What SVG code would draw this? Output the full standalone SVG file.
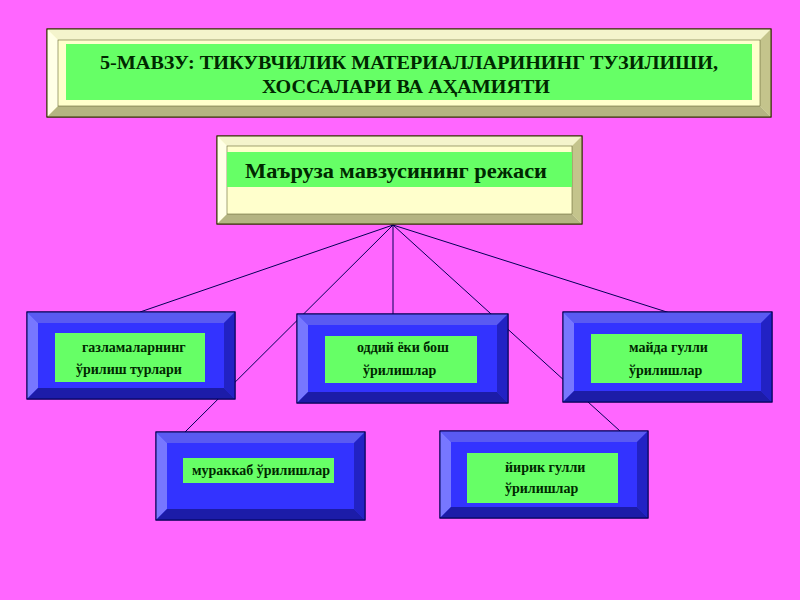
<svg xmlns="http://www.w3.org/2000/svg" width="800" height="600" viewBox="0 0 800 600">
<style>
.bg{fill:#FF66FF}
.cf{fill:#FFFFCC;stroke:#333300;stroke-width:1}
.ct{fill:#F4F4CC}
.cl{fill:#FFFFE6}
.cr{fill:#C4C48C}
.cb{fill:#B4B482}
.bf{fill:#3333FF;stroke:#000055;stroke-width:1}
.bt{fill:#5A5AF2}
.bl{fill:#7777FF}
.br{fill:#2222C4}
.bb{fill:#1C1CA8}
.edge{fill:none;stroke:#000055;stroke-width:1}
.g{fill:#66FF66}
.t{font-family:"Liberation Serif","Times New Roman",serif;font-weight:bold;fill:#002800}
.s{font-size:14px}
</style>
<rect class="bg" x="0" y="0" width="800" height="600"/>
<g id="connectors">
<line class="edge" x1="393" y1="225" x2="140" y2="312"/>
<line class="edge" x1="393" y1="225" x2="185" y2="432"/>
<line class="edge" x1="393" y1="225" x2="393" y2="315"/>
<line class="edge" x1="393" y1="225" x2="620" y2="431"/>
<line class="edge" x1="393" y1="225" x2="670" y2="313"/>
</g>
<g id="title">
<rect class="cf" x="47" y="29" width="724" height="88"/>
<polygon class="ct" points="47,29 771,29 760,40 58,40"/>
<polygon class="cl" points="47,29 58,40 58,106 47,117"/>
<polygon class="cr" points="771,29 771,117 760,106 760,40"/>
<polygon class="cb" points="47,117 58,106 760,106 771,117"/>
<rect x="47" y="29" width="724" height="88" fill="none" stroke="#333300"/>
<rect x="58" y="40" width="702" height="66" fill="none" stroke="#666633" stroke-width="0.6"/>
<rect class="g" x="66" y="44" width="686" height="56"/>
<text class="t" x="100" y="69" font-size="19" textLength="618" lengthAdjust="spacingAndGlyphs">5-МАВЗУ: ТИКУВЧИЛИК МАТЕРИАЛЛАРИНИНГ ТУЗИЛИШИ,</text>
<text class="t" x="262" y="93" font-size="19" textLength="288" lengthAdjust="spacingAndGlyphs">ХОССАЛАРИ ВА АҲАМИЯТИ</text>
</g>
<g id="plan">
<rect class="cf" x="217" y="136" width="365" height="88"/>
<polygon class="ct" points="217,136 582,136 572,146 227,146"/>
<polygon class="cl" points="217,136 227,146 227,214 217,224"/>
<polygon class="cr" points="582,136 582,224 572,214 572,146"/>
<polygon class="cb" points="217,224 227,214 572,214 582,224"/>
<rect x="217" y="136" width="365" height="88" fill="none" stroke="#333300"/>
<rect x="227" y="146" width="345" height="68" fill="none" stroke="#666633" stroke-width="0.6"/>
<rect class="g" x="227" y="152" width="345" height="35"/>
<text class="t" x="245" y="178" font-size="22" textLength="302" lengthAdjust="spacingAndGlyphs">Маъруза мавзусининг режаси</text>
</g>
<g id="box1">
<rect class="bf" x="27" y="312" width="208" height="87"/>
<polygon class="bt" points="27,312 235,312 224,323 38,323"/>
<polygon class="bl" points="27,312 38,323 38,388 27,399"/>
<polygon class="br" points="235,312 235,399 224,388 224,323"/>
<polygon class="bb" points="27,399 38,388 224,388 235,399"/>
<rect x="27" y="312" width="208" height="87" fill="none" stroke="#000055"/>
<rect class="g" x="55" y="333" width="150" height="49"/>
<text class="t s" x="82" y="352">газламаларнинг</text>
<text class="t s" x="76" y="374">ўрилиш турлари</text>
</g>
<g id="box2">
<rect class="bf" x="297" y="314" width="211" height="89"/>
<polygon class="bt" points="297,314 508,314 497,325 308,325"/>
<polygon class="bl" points="297,314 308,325 308,392 297,403"/>
<polygon class="br" points="508,314 508,403 497,392 497,325"/>
<polygon class="bb" points="297,403 308,392 497,392 508,403"/>
<rect x="297" y="314" width="211" height="89" fill="none" stroke="#000055"/>
<rect class="g" x="325" y="336" width="152" height="47"/>
<text class="t s" x="357" y="352">оддий ёки бош</text>
<text class="t s" x="363" y="375">ўрилишлар</text>
</g>
<g id="box3">
<rect class="bf" x="563" y="312" width="209" height="90"/>
<polygon class="bt" points="563,312 772,312 761,323 574,323"/>
<polygon class="bl" points="563,312 574,323 574,391 563,402"/>
<polygon class="br" points="772,312 772,402 761,391 761,323"/>
<polygon class="bb" points="563,402 574,391 761,391 772,402"/>
<rect x="563" y="312" width="209" height="90" fill="none" stroke="#000055"/>
<rect class="g" x="591" y="334" width="151" height="49"/>
<text class="t s" x="629" y="352">майда гулли</text>
<text class="t s" x="629" y="375">ўрилишлар</text>
</g>
<g id="box4">
<rect class="bf" x="156" y="432" width="209" height="88"/>
<polygon class="bt" points="156,432 365,432 354,443 167,443"/>
<polygon class="bl" points="156,432 167,443 167,509 156,520"/>
<polygon class="br" points="365,432 365,520 354,509 354,443"/>
<polygon class="bb" points="156,520 167,509 354,509 365,520"/>
<rect x="156" y="432" width="209" height="88" fill="none" stroke="#000055"/>
<rect class="g" x="183" y="458" width="151" height="25"/>
<text class="t s" x="192" y="475">мураккаб ўрилишлар</text>
</g>
<g id="box5">
<rect class="bf" x="440" y="431" width="208" height="87"/>
<polygon class="bt" points="440,431 648,431 637,442 451,442"/>
<polygon class="bl" points="440,431 451,442 451,507 440,518"/>
<polygon class="br" points="648,431 648,518 637,507 637,442"/>
<polygon class="bb" points="440,518 451,507 637,507 648,518"/>
<rect x="440" y="431" width="208" height="87" fill="none" stroke="#000055"/>
<rect class="g" x="467" y="453" width="151" height="50"/>
<text class="t s" x="505" y="472">йирик гулли</text>
<text class="t s" x="505" y="493">ўрилишлар</text>
</g>
</svg>
